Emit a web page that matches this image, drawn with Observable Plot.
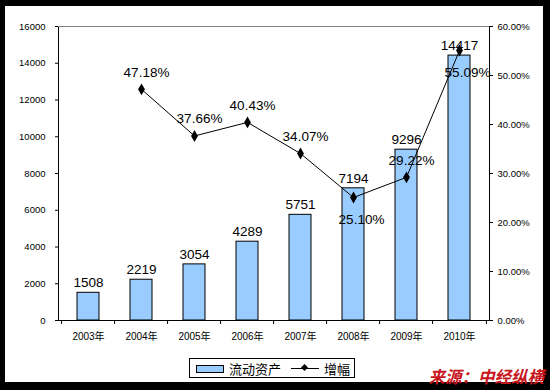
<!DOCTYPE html>
<html><head><meta charset="utf-8">
<script src="https://cdn.jsdelivr.net/npm/d3@7"></script>
<script src="https://cdn.jsdelivr.net/npm/@observablehq/plot@0.6"></script>
<style>
html,body{margin:0;padding:0}
body{background:#000;width:550px;height:390px;overflow:hidden;position:relative;font-family:"Liberation Sans","Noto Sans CJK SC",Arial,sans-serif}
#panel{position:absolute;left:5px;top:6px;width:538px;height:376px;background:#fff}
#chart{position:absolute;left:0;top:0}
#legend{position:absolute;left:189px;top:358px;width:166px;height:20px;border:1px solid #000;background:#fff;font-size:13px;color:#000;box-sizing:border-box}
#legend .sw{position:absolute;left:6px;top:6px;width:28px;height:8px;background:#99ccff;border:1px solid #000;box-sizing:border-box}
#legend .t1{position:absolute;left:39px;top:1px;line-height:17px;font-family:"Noto Sans CJK SC",sans-serif}
#legend .ln{position:absolute;left:101px;top:9px;width:28px;height:1px;background:#000}
#legend .dm{position:absolute;left:112px;top:6px;width:5px;height:5px;background:#000;transform:rotate(45deg)}
#legend .t2{position:absolute;left:134px;top:1px;line-height:17px;font-family:"Noto Sans CJK SC",sans-serif}
#source{position:absolute;right:6px;top:366px;font-family:"Noto Sans CJK SC",sans-serif;font-weight:bold;font-style:italic;font-size:16.5px;line-height:20px;color:#c8161d;white-space:nowrap}
</style>
</head><body>
<div id="panel"></div>
<div id="chart"></div>
<div id="legend"><span class="sw"></span><span class="t1">流动资产</span><span class="ln"></span><span class="dm"></span><span class="t2">增幅</span></div>
<div id="source">来源：中经纵横</div>
<script>
const years = ["2003年","2004年","2005年","2006年","2007年","2008年","2009年","2010年"];
const assets = [1508, 2219, 3054, 4289, 5751, 7194, 9296, 14417];
const growth = [null, 47.18, 37.66, 40.43, 34.07, 25.10, 29.22, 55.09];
const leftTicks = [0, 2000, 4000, 6000, 8000, 10000, 12000, 14000, 16000];
const rightTicks = [0, 10, 20, 30, 40, 50, 60];
const seriesNames = ["流动资产", "增幅"];

const yMax = 16000, pMax = 60, k = yMax / pMax;
const W = 550, H = 350, mL = 58, mR = 61, mT = 26, mB = 30;
const step = (W - mL - mR) / years.length;

const bars = years.map((y, i) => ({year: y, value: assets[i]}));
const pts = years.map((y, i) => ({year: y, pct: growth[i]})).filter(d => d.pct != null);
const belowYears = new Set(["2008年", "2010年"]);
const ptsAbove = pts.filter(d => !belowYears.has(d.year));
const ptsBelow = pts.filter(d => belowYears.has(d.year));

const font = "Liberation Sans, Noto Sans CJK SC, Arial, sans-serif";

const chart = Plot.plot({
  width: W, height: H,
  marginLeft: mL, marginRight: mR, marginTop: mT, marginBottom: mB,
  style: {background: "transparent", fontFamily: font, color: "#000"},
  x: {domain: years, paddingInner: 0.59, paddingOuter: 0.295, label: null},
  y: {domain: [0, yMax], label: null},
  marks: [
    Plot.barY(bars, {x: "year", y: "value", fill: "#99ccff", stroke: "#000", strokeWidth: 1}),
    Plot.frame({stroke: "#000"}),
    Plot.ruleY([yMax], {stroke: "#808080"}),
    Plot.ruleX(years, {x: d => d, dx: -step / 2, y1: 0, y2: -yMax * 4 / (H - mT - mB), stroke: "#000"}),
    Plot.ruleX(years.slice(-1), {x: d => d, dx: step / 2, y1: 0, y2: -yMax * 4 / (H - mT - mB), stroke: "#000"}),
    Plot.axisY({ticks: leftTicks, tickSize: 3, tickPadding: 10, fontSize: 9.5, tickFormat: d => String(d), label: null}),
    Plot.axisY(rightTicks.map(p => p * k), {anchor: "right", tickSize: 3, tickPadding: 5, fontSize: 9.5, tickFormat: v => (v / k).toFixed(2) + "%", label: null}),
    Plot.axisX({tickSize: 0, tickPadding: 12, fontSize: 10, label: null}),
    Plot.text(bars, {x: "year", y: "value", text: d => String(d.value), dy: -10, fontSize: 13.5, fill: "#000"}),
    Plot.line(pts, {x: "year", y: d => d.pct * k, stroke: "#000", strokeWidth: 1}),
    Plot.dot(pts, {x: "year", y: d => d.pct * k, symbol: "diamond", r: 3.6, fill: "#000", stroke: "none"}),
    Plot.text(ptsAbove, {x: "year", y: d => d.pct * k, text: d => d.pct.toFixed(2) + "%", dx: 5, dy: -17, fontSize: 13.5, fill: "#000"}),
    Plot.text(ptsBelow, {x: "year", y: d => d.pct * k, text: d => d.pct.toFixed(2) + "%", dx: 8, dy: 22, fontSize: 13.5, fill: "#000"})
  ]
});
document.getElementById("chart").appendChild(chart);
</script>
</body></html>
